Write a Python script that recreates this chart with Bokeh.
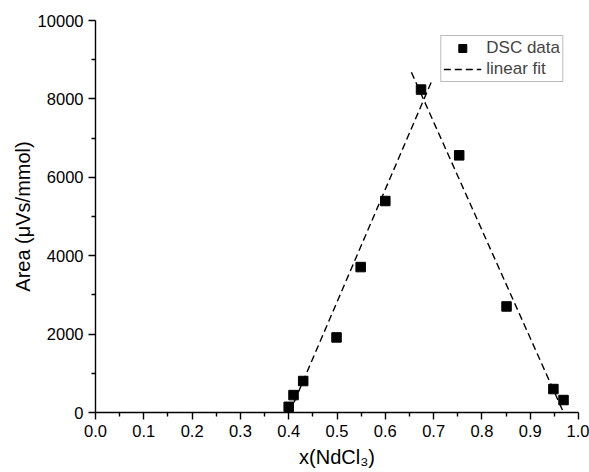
from bokeh.plotting import figure
from bokeh.models import Range1d, Legend, LegendItem, FixedTicker, NumeralTickFormatter
from bokeh.embed import file_html
from bokeh.resources import INLINE

# Data
x_data = [0.400, 0.410, 0.430, 0.499, 0.549, 0.600, 0.674, 0.753, 0.851, 0.948, 0.969]
y_data = [145, 444, 803, 1915, 3710, 5395, 8238, 6560, 2705, 598, 318]

fit_left_x = [0.402, 0.697]
fit_left_y = [0, 8480]
fit_right_x = [0.654, 0.969]
fit_right_y = [8680, 0]

x_ticks = [0.0, 0.1, 0.2, 0.3, 0.4, 0.5, 0.6, 0.7, 0.8, 0.9, 1.0]
x_minor = [0.05, 0.15, 0.25, 0.35, 0.45, 0.55, 0.65, 0.75, 0.85, 0.95]
y_ticks = [0, 2000, 4000, 6000, 8000, 10000]
y_minor = [1000, 3000, 5000, 7000, 9000]

FONT = "Liberation Sans"

p = figure(width=589, height=472, output_backend="svg", toolbar_location=None,
           x_range=Range1d(0, 1), y_range=Range1d(0, 10000),
           min_border_left=95, min_border_right=11, min_border_top=20, min_border_bottom=60)
p.outline_line_color = None
p.xgrid.visible = False
p.ygrid.visible = False
p.background_fill_color = "white"
p.border_fill_color = "white"

r_data = p.scatter(x_data, y_data, marker="square", size=9.5, color="black")
r_fit = p.line(fit_left_x, fit_left_y, line_color="black", line_width=1.4, line_dash="7 4")
p.line(fit_right_x, fit_right_y, line_color="black", line_width=1.4, line_dash="7 4")

for ax, ticks, minor in ((p.xaxis[0], x_ticks, x_minor), (p.yaxis[0], y_ticks, y_minor)):
    ax.ticker = FixedTicker(ticks=ticks, minor_ticks=minor)
    ax.major_tick_out = 7
    ax.major_tick_in = 0
    ax.minor_tick_out = 4
    ax.minor_tick_in = 0
    ax.axis_line_width = 1.4
    ax.major_tick_line_width = 1.4
    ax.minor_tick_line_width = 1.4
    ax.axis_line_color = "black"
    ax.major_tick_line_color = "black"
    ax.minor_tick_line_color = "black"
    ax.major_label_text_font = FONT
    ax.major_label_text_font_size = "16.5px"
    ax.major_label_text_color = "black"
    ax.axis_label_text_font = FONT
    ax.axis_label_text_font_size = "20px"
    ax.axis_label_text_font_style = "normal"
    ax.axis_label_text_color = "black"

p.xaxis[0].formatter = NumeralTickFormatter(format="0.0")
p.xaxis[0].axis_label = "x(NdCl\u2083)"
p.yaxis[0].axis_label = "Area (\u03bcVs/mmol)"
p.xaxis[0].major_label_standoff = 5
p.xaxis[0].axis_label_standoff = 6
p.yaxis[0].major_label_standoff = 5
p.yaxis[0].axis_label_standoff = 1

legend = Legend(items=[LegendItem(label="DSC data", renderers=[r_data]),
                       LegendItem(label="linear fit", renderers=[r_fit])],
                location="top_right")
legend.label_text_font = FONT
legend.label_text_font_size = "17px"
legend.border_line_color = "#777777"
legend.border_line_width = 1
legend.background_fill_alpha = 1
legend.glyph_width = 38
legend.glyph_height = 20
legend.label_standoff = 5
legend.spacing = 1
legend.padding = 2
legend.margin = 15
legend.label_height = 20
p.add_layout(legend)

open("out.html", "w").write(file_html(p, INLINE))
